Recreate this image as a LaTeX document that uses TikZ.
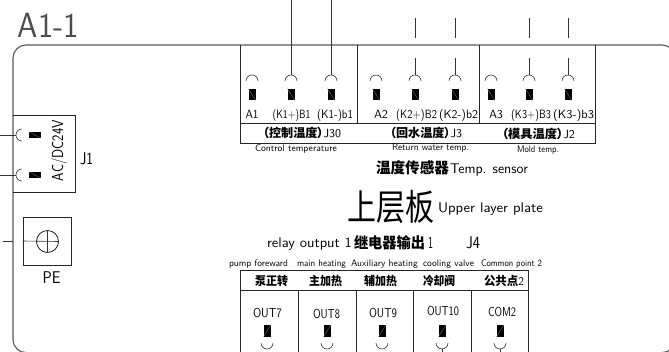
\documentclass[tikz,border=0pt]{standalone}
\usepackage{graphicx}
\usepackage{fontspec}
\newfontfamily\cjk{Noto Sans CJK SC}[RawFeature=+palt]
\newcommand{\cad}[2]{\resizebox{#1pt}{\height}{#2}}
\newcommand{\hei}[1]{{\cjk\bfseries #1}}

\begin{document}
\begin{tikzpicture}[x=1pt,y=-1pt,every node/.style={inner sep=0pt}]
  \colorlet{coul0}{black!65}
  \tikzstyle{outer}=[draw=coul0, line width=1.1pt]
  \tikzstyle{wire}=[draw=black!80, line width=0.6pt]
  \tikzstyle{box}=[draw=black!85, line width=0.7pt]
  \tikzstyle{slash}=[draw=black!45, line width=0.25pt]
  \tikzstyle{lab}=[anchor=base, font=\sffamily\fontsize{12}{12}\selectfont]
  \tikzstyle{tiny}=[anchor=base, font=\sffamily\fontsize{9.5}{9.5}\selectfont]
  \tikzstyle{mid}=[anchor=base, font=\sffamily\fontsize{14}{14}\selectfont]
  \tikzstyle{big}=[anchor=base, font=\sffamily\fontsize{17}{17}\selectfont]
  \tikzstyle{pinv}=[fill=black, minimum width=7pt, minimum height=11.5pt]
  \tikzstyle{pinh}=[fill=black, minimum width=12pt, minimum height=6pt]
  \useasboundingbox (0,0) rectangle (669,351);

  % board outline
  \draw[outer, rounded corners=13pt] (13,45) rectangle (675,352.6);
  \node[anchor=base, text=black!70, font=\sffamily\fontsize{35}{35}\selectfont] (title) at (48.5,37) {\cad{61}{A1-1}};

  % sensor terminals
  \foreach \i/\x in {1/252, 2/291, 3/331, 4/376, 5/415, 6/455, 7/491, 8/529, 9/568} {
    \node[pinv] (top\i) at (\x,94.5) {};
    \draw[slash] (top\i.north west) -- (top\i.south east);
    \coordinate (arc\i) at (\x,75);
    \draw[wire] (\x-6,81) arc[start angle=180, end angle=360, radius=6];
  }
  \foreach \i/\x/\w/\txt in {1/252/13/A1, 2/291.5/38/(K1+)B1, 3/335/36/(K1-)b1, 4/381/14/A2, 5/416.5/41/(K2+)B2, 6/458.5/39/(K2-)b2, 7/496/14/A3, 8/531/40/(K3+)B3, 9/573.5/41/(K3-)b3}
    \node[lab] (name\i) at (\x,118) {\cad{\w}{\txt}};

  % wires going up
  \coordinate (up2) at (291,0);
  \coordinate (up3) at (331,0);
  \draw[wire] (arc2) -- (up2);
  \draw[wire] (arc3) -- (up3);
  \foreach \i/\x in {5/415, 6/455, 8/529, 9/568} {
    \coordinate (lo\i) at (\x,58);
    \coordinate (hi\i) at (\x,38);
    \coordinate (end\i) at (\x,18);
    \draw[wire] (arc\i) -- (lo\i);
    \draw[wire] (hi\i) -- (end\i);
  }

  % sensor table
  \draw[box] (240.5,45) -- (240.5,143) -- (595,143) -- (595,45);
  \draw[box] (240.5,123) -- (595,123);
  \draw[box] (357.5,45) -- (357.5,123);
  \draw[box] (479.5,45) -- (479.5,123);
  \node[lab] (j30) at (302,137.5) {\cad{78}{\hei{（控制温度）}J30}};
  \node[lab] (j3) at (426,137.5) {\cad{72}{\hei{（回水温度）}J3}};
  \node[lab] (j2) at (538.5,138.5) {\cad{73}{\hei{（模具温度）}J2}};
  \node[tiny] (ctl) at (296,151) {\cad{82}{Control temperature}};
  \node[tiny] (ret) at (430.5,150) {\cad{77}{Return water temp.}};
  \node[tiny] (mold) at (538,152) {\cad{42}{Mold temp.}};

  % centre titles
  \node[anchor=base, font=\fontsize{15}{15}\selectfont] (sens) at (412.5,173.7) {\cad{73}{\hei{温度传感器}}};
  \node[mid] (senstxt) at (489,173) {\cad{78}{Temp. sensor}};
  \node[anchor=base, font=\fontsize{36}{36}\selectfont] (plate) at (391,220) {\cad{87}{\cjk 上层板}};
  \node[mid] (platetxt) at (490.5,212.7) {\cad{105}{Upper layer plate}};
  \node[mid] (relay) at (309.5,247) {\cad{85}{relay output 1}};
  \node[anchor=base, font=\fontsize{15}{15}\selectfont] (relaycn) at (389.5,248.7) {\cad{71}{\hei{继电器输出}}};
  \node[big] (one) at (430.5,248) {\cad{5}{1}};
  \node[big] (j4) at (473,248) {\cad{14}{J4}};

  % relay table
  \foreach \x/\w/\txt in {258.5/59/pump foreward, 321.5/49/main heating, 384.5/67/Auxiliary heating, 448.5/51/cooling valve, 511.5/61/Common point 2}
    \node[tiny] at (\x,266.5) {\cad{\w}{\txt}};
  \draw[box] (240.5,352) -- (240.5,270) -- (528,270) -- (528,352);
  \draw[box] (240.5,290) -- (528,290);
  \foreach \x in {298, 356, 413, 471}
    \draw[box] (\x,290) -- (\x,352);
  \foreach \x/\w/\txt in {271.5/33/泵正转, 325.5/33/主加热, 380.5/33/辅加热, 439/32/冷却阀}
    \node[anchor=base, font=\fontsize{12}{12}\selectfont] at (\x,285.5) {\cad{\w}{\hei{\txt}}};
  \node[lab] (com) at (504,285.5) {\cad{40}{\hei{公共点}2}};

  % relay terminals
  \foreach \i/\x/\lx/\ly/\w/\txt in {7/267/267.5/317/29/OUT7, 8/327/326.5/318/27/OUT8, 9/382/383/317/28/OUT9, 10/442/443/315/32/OUT10, 11/500/502/316/28/COM2} {
    \node[pinv] (low\i) at (\x,331) {};
    \draw[slash] (low\i.south west) -- (low\i.north east);
    \node[anchor=base, font=\sffamily\fontsize{13}{13}\selectfont] (out\i) at (\lx,\ly) {\cad{\w}{\txt}};
    \coordinate (cup\i) at (\x,349);
    \draw[wire] (\x-6,343) arc[start angle=180, end angle=0, radius=6];
  }
  \coordinate (stem10) at (442,352);
  \coordinate (stem11) at (500,352);
  \draw[wire] (cup10) -- (stem10);
  \draw[wire] (cup11) -- (stem11);

  % J1 supply
  \draw[box] (13,115) -- (75,115) -- (75,192) -- (13,192);
  \node[anchor=base, rotate=90, font=\sffamily\fontsize{16}{16}\selectfont] (ac) at (63,150.5) {\cad{61}{AC/DC24V}};
  \node[big] (j1) at (86.5,164) {\cad{13}{J1}};
  \foreach \i/\y in {1/135, 2/175} {
    \node[pinh] (sup\i) at (35,\y) {};
    \draw[slash] (sup\i.north west) -- (sup\i.south east);
    \coordinate (left\i) at (0,\y);
    \coordinate (cupl\i) at (16,\y);
    \draw[wire] (22,\y-6) arc[start angle=270, end angle=90, radius=6];
    \draw[wire] (left\i) -- (cupl\i);
  }

  % earth
  \node[box, minimum width=48pt, minimum height=48pt] (pe) at (47,241) {};
  \node[draw=black, line width=0.7pt, circle, minimum size=22pt] (gnd) at (47.5,241.5) {};
  \draw[wire] (pe.west) -- (gnd.east);
  \draw[wire] (gnd.north) -- (gnd.south);
  \coordinate (pel) at (3,241.5);
  \coordinate (per) at (13,241.5);
  \draw[wire] (pel) -- (per);
  \node[big] (pename) at (51.5,283) {\cad{18}{PE}};
\end{tikzpicture}
\end{document}
